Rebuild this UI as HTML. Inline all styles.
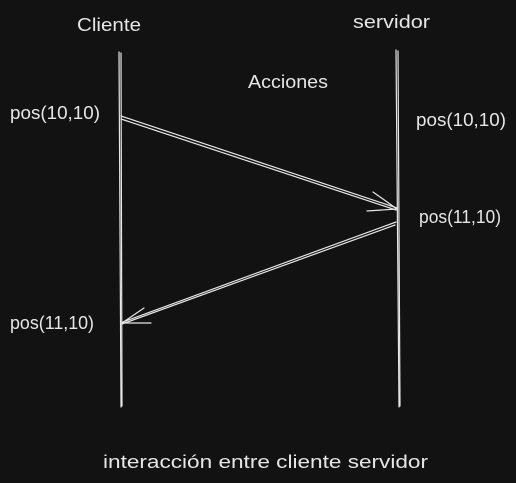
<!DOCTYPE html>
<html><head><meta charset="utf-8">
<style>
html,body{margin:0;padding:0;background:#121212;}
svg{display:block}
text{font-family:"Liberation Sans",sans-serif;fill:#e6e6e6;font-size:18px}
</style></head>
<body>
<svg width="516" height="483" viewBox="0 0 516 483">
<rect width="516" height="483" fill="#121212"/>
<g stroke="#e6e6e6" stroke-width="1.2" fill="none" stroke-linecap="round">
  <g>
    <path d="M119 52 L121 407"/><path d="M121 53 L122 406"/>
  </g>
  <g>
    <path d="M396 50 L399 407"/><path d="M398 51 L400 406"/>
  </g>
  <g>
    <path d="M121 116 L397 208"/><path d="M121 119 L396 210"/>
    <path d="M397 209 L373 192"/><path d="M397 209 L367 211"/>
  </g>
  <g>
    <path d="M396 222 L123 322"/><path d="M395 225 L122 324"/>
    <path d="M122 323 L144 308"/><path d="M122 323 L151 323"/>
  </g>
</g>
<text x="77" y="31" textLength="64" lengthAdjust="spacingAndGlyphs">Cliente</text>
<text x="353" y="28" textLength="77" lengthAdjust="spacingAndGlyphs">servidor</text>
<text x="248" y="88" textLength="80" lengthAdjust="spacingAndGlyphs">Acciones</text>
<text x="10" y="119" textLength="90" lengthAdjust="spacingAndGlyphs">pos(10,10)</text>
<text x="416" y="126" textLength="90" lengthAdjust="spacingAndGlyphs">pos(10,10)</text>
<text x="419" y="223" textLength="82" lengthAdjust="spacingAndGlyphs">pos(11,10)</text>
<text x="10" y="329" textLength="84" lengthAdjust="spacingAndGlyphs">pos(11,10)</text>
<text x="103" y="468" textLength="325" lengthAdjust="spacingAndGlyphs">interacción entre cliente servidor</text>
</svg>
</body></html>
